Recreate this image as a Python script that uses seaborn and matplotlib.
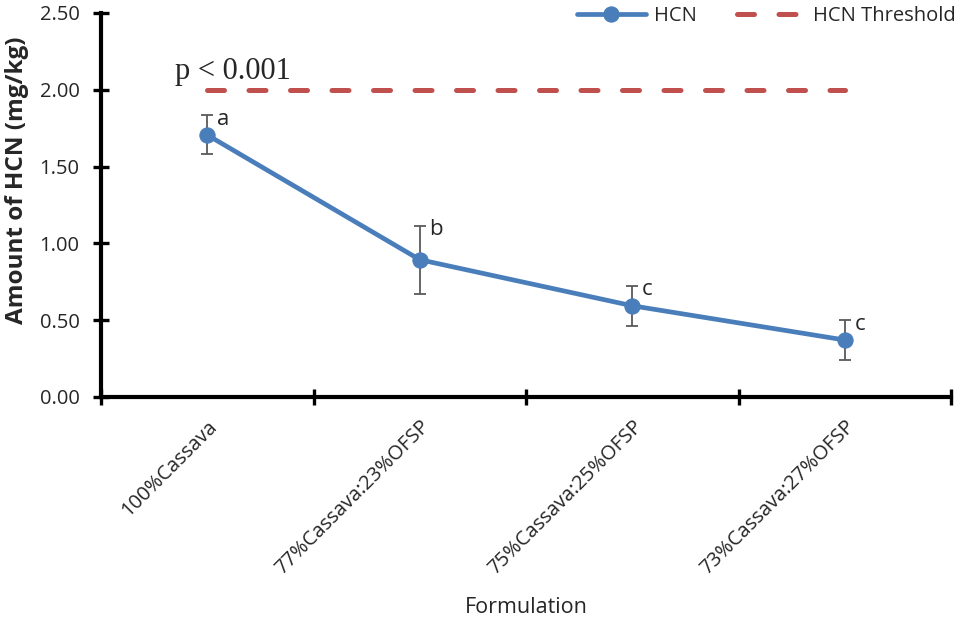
import numpy as np
import pandas as pd
import matplotlib
matplotlib.use("Agg")
import matplotlib.pyplot as plt
import seaborn as sns

categories = ["100%Cassava", "77%Cassava:23%OFSP", "75%Cassava:25%OFSP", "73%Cassava:27%OFSP"]
hcn = [1.706, 0.894, 0.594, 0.371]
hcn_err = [0.127, 0.221, 0.130, 0.128]
letters = ["a", "b", "c", "c"]
threshold = [2.0, 2.0, 2.0, 2.0]
yticks = [0.0, 0.5, 1.0, 1.5, 2.0, 2.5]

sns.set_theme(style="white")
plt.rcParams['font.family'] = ['Open Sans', 'DejaVu Sans']

pos = np.arange(len(categories)) + 0.5
df = pd.DataFrame({"pos": pos, "HCN": hcn, "thr": threshold})

fig = plt.figure(figsize=(9.57, 6.21), dpi=100)
ax = fig.add_axes([101/957, 1-397/621, (951-101)/957, (397-13)/621])

blue = "#4a7ebb"
red = "#c0504d"

sns.lineplot(data=df, x="pos", y="thr", ax=ax, color=red, lw=3.6,
             dashes=False, label="HCN Threshold", zorder=2)
thr_line = ax.lines[-1]
thr_line.set_dashes([3.4, 4.9])
thr_line.set_dash_capstyle("round")

ax.errorbar(pos, hcn, yerr=hcn_err, fmt="none", ecolor="#595959",
            elinewidth=1.3, capsize=4.5, capthick=1.3, zorder=3)
sns.lineplot(data=df, x="pos", y="HCN", ax=ax, color=blue, lw=3.4,
             marker="o", markersize=11, markeredgecolor=blue, label="HCN", zorder=4)

for x, y, e, t in zip(pos, hcn, hcn_err, letters):
    ax.annotate(t, (x, y + e), xytext=(7, -3), textcoords="offset points",
                ha="left", va="center", fontsize=16)

ax.text(0.62, 2.12, "p < 0.001", family=["Liberation Serif"], fontsize=22,
        ha="center", va="center")

ax.set_xlim(0, 4)
ax.set_ylim(0, 2.5)
ax.set_yticks(yticks)
ax.set_yticklabels([f"{v:.2f}" for v in yticks], fontsize=14.5)
ax.set_xticks(np.arange(0, 5))
ax.set_xticklabels([])
ax.set_xticks(pos, minor=True)
ax.set_xticklabels(categories, minor=True, rotation=45, ha="right",
                   rotation_mode="anchor", fontsize=14.5)
ax.tick_params(bottom=True, left=True)
ax.tick_params(axis="x", which="minor", length=0, pad=14)
ax.tick_params(axis="both", which="major", direction="inout", length=11,
               width=2.4, color="black")
ax.tick_params(axis="y", which="major", pad=10)

for s in ["top", "right"]:
    ax.spines[s].set_visible(False)
for s in ["left", "bottom"]:
    ax.spines[s].set_color("black")
    ax.spines[s].set_linewidth(3)

ax.set_xlabel("Formulation", fontsize=15.5)
ax.xaxis.set_label_coords(0.5, -0.52)
ax.set_ylabel("Amount of HCN (mg/kg)", fontsize=17.5, fontweight="bold")
ax.yaxis.set_label_coords(-0.085, 0.565)

handles, labels = ax.get_legend_handles_labels()
if ax.get_legend() is not None:
    ax.get_legend().remove()
order = [labels.index("HCN"), labels.index("HCN Threshold")]
leg = fig.legend([handles[i] for i in order], [labels[i] for i in order],
                 loc="upper right", bbox_to_anchor=(1.0, 0.992), ncol=2,
                 frameon=False, fontsize=14.5, handlelength=3.4, columnspacing=2.0,
                 handletextpad=0.4, borderaxespad=0.0, borderpad=0.05)

fig.savefig("out.png", dpi=100)
